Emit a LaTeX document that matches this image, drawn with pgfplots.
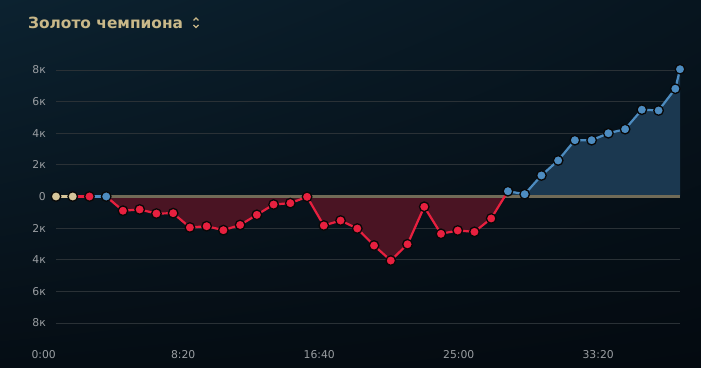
\documentclass[border=0pt]{standalone}
\usepackage{fontspec}
\setmainfont{DejaVu Sans}
\newfontfamily\titlefont{DejaVu Sans}
\usepackage{pgfplots}
\pgfplotsset{compat=1.18}
\usetikzlibrary{shadings}
\definecolor{bgA}{HTML}{0C2230}
\definecolor{bgB}{HTML}{07151F}
\definecolor{bgC}{HTML}{050D14}
\definecolor{bgD}{HTML}{040A10}
\definecolor{gridc}{HTML}{2A3136}
\definecolor{zeroc}{HTML}{716B57}
\definecolor{tickc}{HTML}{9A9EA2}
\definecolor{titlec}{HTML}{C9B889}
\definecolor{redm}{HTML}{E8203F}
\definecolor{redfill}{HTML}{4A1423}
\definecolor{bluem}{HTML}{4D8CC0}
\definecolor{bluefill}{HTML}{1B3850}
\definecolor{beige}{HTML}{D6C59A}
\definecolor{outl}{HTML}{080808}
\begin{document}
\begin{tikzpicture}[x=1pt,y=1pt]
\shade[upper left=bgA, upper right=bgB, lower left=bgC, lower right=bgD] (0,0) rectangle (701,367);
\node[anchor=west, inner sep=0pt, text=titlec, font=\titlefont\bfseries\fontsize{15.4}{17}\selectfont] at (28,344.5) {Золото чемпиона};
\draw[titlec, line width=1.1pt] (193.5,346.5) -- (196,349) -- (198.5,346.5);
\draw[titlec, line width=1.1pt] (193.5,342) -- (196,339.5) -- (198.5,342);
\begin{axis}[
  at={(56pt,44pt)}, anchor=south west,
  scale only axis, width=624pt, height=253pt,
  xmin=0, xmax=37.28, ymin=-8000, ymax=8000,
  clip=false,
  axis line style={draw=none},
  major tick length=0pt,
  ytick={-8000,-6000,-4000,-2000,0,2000,4000,6000,8000},
  yticklabels={8к,6к,4к,2к,0,2к,4к,6к,8к},
  scaled y ticks=false,
  ymajorgrids,
  grid style={color=gridc, line width=0.9pt},
  xtick={0,8.3333,16.6667,25,33.3333},
  xticklabels={0:00,8:20,16:40,25:00,33:20},
  tick label style={text=tickc, font=\fontsize{10.8}{12}\selectfont},
  yticklabel style={anchor=east, inner sep=0pt, xshift=-10pt},
  xticklabel style={anchor=north east, inner sep=0pt, yshift=-27pt},
]
% filled areas
\addplot[draw=none, fill=redfill] coordinates {
 (3,0) (4,-900) (5,-820) (6,-1080) (7,-1055) (8,-1960) (9,-1880) (10,-2130)
 (11,-1800) (12,-1160) (13,-506) (14,-420) (15,-20) (16,-1835) (17,-1520)
 (18,-2025) (19,-3100) (20,-4050) (21,-3020) (22,-650) (23,-2360) (24,-2150)
 (25,-2235) (26,-1390) (26.806,0)} -- cycle;
\addplot[draw=none, fill=bluefill] coordinates {
 (26.806,0) (27,335) (28,145) (29,1330) (30,2280) (31,3560) (32,3560)
 (33,4000) (34,4260) (35,5490) (36,5440) (37,6815) (37.28,8050) (37.28,0)} -- cycle;
% zero line
\addplot[zeroc, line width=2.2pt] coordinates {(3,0) (37.28,0)};
% line segments
\addplot[beige, line width=2.2pt] coordinates {(0,0) (1,0)};
\addplot[redm, line width=2.2pt] coordinates {(1,0) (2,0)};
\addplot[bluem, line width=2.2pt] coordinates {(2,0) (3,0)};
\addplot[redm, line width=2.2pt] coordinates {
 (3,0) (4,-900) (5,-820) (6,-1080) (7,-1055) (8,-1960) (9,-1880) (10,-2130)
 (11,-1800) (12,-1160) (13,-506) (14,-420) (15,-20) (16,-1835) (17,-1520)
 (18,-2025) (19,-3100) (20,-4050) (21,-3020) (22,-650) (23,-2360) (24,-2150)
 (25,-2235) (26,-1390) (27,335)};
\addplot[bluem, line width=2.2pt] coordinates {
 (27,335) (28,145) (29,1330) (30,2280) (31,3560) (32,3560)
 (33,4000) (34,4260) (35,5490) (36,5440) (37,6815) (37.28,8050)};
% markers
\addplot[only marks, mark=*, mark size=4.8pt, mark options={fill=beige, draw=outl, line width=1.3pt}] coordinates {(0,0) (1,0)};
\addplot[only marks, mark=*, mark size=4.8pt, mark options={fill=redm, draw=outl, line width=1.3pt}] coordinates {
 (2,0) (4,-900) (5,-820) (6,-1080) (7,-1055) (8,-1960) (9,-1880) (10,-2130)
 (11,-1800) (12,-1160) (13,-506) (14,-420) (15,-20) (16,-1835) (17,-1520)
 (18,-2025) (19,-3100) (20,-4050) (21,-3020) (22,-650) (23,-2360) (24,-2150)
 (25,-2235) (26,-1390)};
\addplot[only marks, mark=*, mark size=4.8pt, mark options={fill=bluem, draw=outl, line width=1.3pt}] coordinates {
 (3,0) (27,335) (28,145) (29,1330) (30,2280) (31,3560) (32,3560)
 (33,4000) (34,4260) (35,5490) (36,5440) (37,6815) (37.28,8050)};
\end{axis}
\end{tikzpicture}
\end{document}
